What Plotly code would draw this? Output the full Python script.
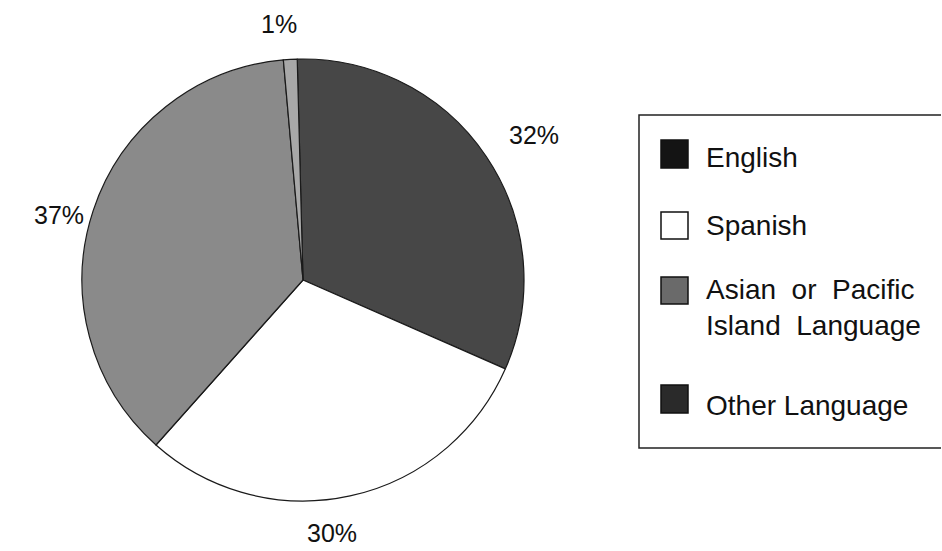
import plotly.graph_objects as go

# ---- data ----
languages = ["English", "Spanish", "Asian or Pacific Island Language", "Other Language"]
legend_lines = ["English", "Spanish", "Asian  or  Pacific<br>Island  Language", "Other Language"]
shares = [32, 30, 37, 1]
colors = ["#474747", "#ffffff", "#8a8a8a", "#a8a8a8"]

W, H = 942, 551


def px(x):
    return x / W


def py(y):
    return 1 - y / H


cx, cy, r = 303, 280, 221

fig = go.Figure()
fig.add_trace(go.Pie(
    labels=languages,
    values=shares,
    sort=False,
    direction="clockwise",
    rotation=-1.5,
    textinfo="none",
    hoverinfo="label+percent",
    marker=dict(colors=colors, line=dict(color="#1a1a1a", width=1.2)),
    domain=dict(x=[px(cx - r), px(cx + r)], y=[py(cy + r), py(cy - r)]),
    showlegend=False,
))

FONT = "Liberation Sans, Arial, Helvetica, sans-serif"

# slice percentage labels
label_pos = [(534, 135), (332, 533), (59, 215), (279, 24)]
annotations = []
for v, (x, y) in zip(shares, label_pos):
    annotations.append(dict(
        x=px(x), y=py(y), xref="paper", yref="paper",
        text=f"{v}%", showarrow=False, xanchor="center", yanchor="middle",
        font=dict(family=FONT, size=25, color="#111111"),
    ))

# manual legend (box open on the right, running off the page)
shapes = [dict(type="path", xref="paper", yref="paper",
               path=f"M {px(941)} {py(115)} L {px(639)} {py(115)} L {px(639)} {py(448)} L {px(941)} {py(448)}",
               line=dict(color="#222222", width=1.5))]
swatches = [(140, 168), (212, 239), (277, 304), (385, 413)]
text_y = [158, 226, 291, 405]
swatch_fill = ["#141414", "#ffffff", "#6a6a6a", "#2a2a2a"]
for i, name in enumerate(legend_lines):
    y0, y1 = swatches[i]
    shapes.append(dict(type="rect", xref="paper", yref="paper",
                       x0=px(661), x1=px(688), y0=py(y1), y1=py(y0),
                       line=dict(color="#111111", width=1.5), fillcolor=swatch_fill[i]))
    ty = text_y[i]
    if "<br>" in name:
        ty = 307
    annotations.append(dict(
        x=px(704), y=py(ty), xref="paper", yref="paper",
        text=name, showarrow=False, xanchor="left", yanchor="middle", align="left",
        font=dict(family=FONT, size=28, color="#111111"),
    ))

fig.update_layout(
    width=W, height=H,
    margin=dict(l=0, r=0, t=0, b=0),
    paper_bgcolor="white", plot_bgcolor="white",
    shapes=shapes, annotations=annotations,
    showlegend=False,
)

fig.write_html("out.html")
